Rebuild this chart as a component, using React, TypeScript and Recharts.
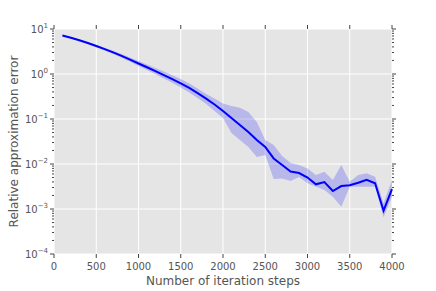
import React from 'react';
import { ComposedChart, Line, Area, XAxis, YAxis, CartesianGrid, Label } from 'recharts';

const steps = [
  100, 200, 300, 400, 500, 600, 700, 800, 900, 1000,
  1100, 1200, 1300, 1400, 1500, 1600, 1700, 1800, 1900, 2000,
  2100, 2200, 2300, 2400, 2500, 2600, 2700, 2800, 2900, 3000,
  3100, 3200, 3300, 3400, 3500, 3600, 3700, 3800, 3900, 4000,
];

const meanError = [
  7.17, 6.37, 5.61, 4.89, 4.19, 3.58, 3.02, 2.53, 2.09, 1.71,
  1.41, 1.154, 0.945, 0.77, 0.621, 0.489, 0.374, 0.283, 0.21, 0.151,
  0.105, 0.0736, 0.0514, 0.0341, 0.0239, 0.0133, 0.0095, 0.00681, 0.00631, 0.00501,
  0.00354, 0.00398, 0.00251, 0.00324, 0.00336, 0.00382, 0.00445, 0.00374, 0.000917, 0.00278,
];

const upperError = [
  7.43, 6.64, 5.87, 5.14, 4.45, 3.84, 3.28, 2.78, 2.34, 1.94,
  1.63, 1.36, 1.13, 0.94, 0.774, 0.615, 0.476, 0.359, 0.286, 0.221,
  0.194, 0.178, 0.143, 0.0858, 0.0341, 0.0264, 0.0151, 0.0105, 0.0095, 0.00794,
  0.0057, 0.00674, 0.00441, 0.0095, 0.00404, 0.0057, 0.00621, 0.00522, 0.00134, 0.00441,
];

const lowerError = [
  6.92, 6.12, 5.36, 4.64, 3.94, 3.33, 2.78, 2.29, 1.87, 1.51,
  1.23, 0.985, 0.794, 0.637, 0.501, 0.388, 0.293, 0.215, 0.151, 0.105,
  0.0489, 0.0341, 0.0239, 0.0143, 0.0158, 0.00464, 0.00476, 0.00419, 0.00514, 0.00373,
  0.00313, 0.00264, 0.00188, 0.00112, 0.00313, 0.00313, 0.00313, 0.00313, 0.000654, 0.00188,
];

const xTicks = [0, 500, 1000, 1500, 2000, 2500, 3000, 3500, 4000];
const yMajorTicks = [0.0001, 0.001, 0.01, 0.1, 1, 10];
const yExponents = ['\u22124', '\u22123', '\u22122', '\u22121', '0', '1'];
const yMinorMultipliers = [2, 3, 4, 5, 6, 7, 8, 9];

const xLabel = 'Number of iteration steps';
const yLabel = 'Relative approximation error';

const data = steps.map((s, i) => ({
  step: s,
  mean: meanError[i],
  band: [lowerError[i], upperError[i]],
}));

const yAllTicks: number[] = [];
yMajorTicks.forEach((m, i) => {
  yAllTicks.push(m);
  if (i < yMajorTicks.length - 1) {
    yMinorMultipliers.forEach((k) => yAllTicks.push(m * k));
  }
});

const TEXT = '#555555';
const TICK = '#444444';
const FONT = 'DejaVu Sans, sans-serif';

const LeftTick = (props: any) => {
  const { x, y, payload } = props;
  const idx = yMajorTicks.indexOf(payload.value);
  const major = idx >= 0;
  return (
    <g>
      <line x1={x - (major ? 4 : 2)} x2={x} y1={y} y2={y} stroke={TICK} strokeWidth={1} />
      {major && (
        <text x={x - 6} y={y + 3.6} textAnchor="end" fontSize={10} fill={TEXT} fontFamily={FONT}>
          <tspan>10</tspan>
          <tspan dy={-4.5} fontSize={7}>{yExponents[idx]}</tspan>
        </text>
      )}
    </g>
  );
};

const RightTick = (props: any) => {
  const { x, y, payload } = props;
  const major = yMajorTicks.indexOf(payload.value) >= 0;
  return <line x1={x} x2={x + (major ? 4 : 2)} y1={y} y2={y} stroke={TICK} strokeWidth={1} />;
};

const BottomTick = (props: any) => {
  const { x, y, payload } = props;
  return (
    <g>
      <line x1={x} x2={x} y1={y} y2={y + 4} stroke={TICK} strokeWidth={1} />
      <text x={x} y={y + 16} textAnchor="middle" fontSize={10} fill={TEXT} fontFamily={FONT}>
        {payload.value}
      </text>
    </g>
  );
};

const TopTick = (props: any) => {
  const { x, y } = props;
  return <line x1={x} x2={x} y1={y - 4} y2={y} stroke={TICK} strokeWidth={1} />;
};

export default function App() {
  return (
    <div style={{ position: 'absolute', left: 0, top: 0 }}>
      <ComposedChart
        width={436}
        height={291}
        data={data}
        margin={{ top: 23, right: 38, bottom: 0, left: 0 }}
      >
        <CartesianGrid
          fill="#E5E5E5"
          stroke="#FFFFFF"
          strokeWidth={1}
          horizontalValues={yMajorTicks}
          verticalValues={xTicks}
        />
        <XAxis
          dataKey="step"
          type="number"
          domain={[0, 4000]}
          ticks={xTicks}
          interval={0}
          height={37}
          axisLine={false}
          tickLine={false}
          tickSize={0}
          tickMargin={0}
          tick={<BottomTick />}
        >
          <Label
            content={(p: any) => {
              const vb = p.viewBox || { x: 54, width: 338, y: 254 };
              return (
                <text x={vb.x + vb.width / 2} y={vb.y + 31} textAnchor="middle" fontSize={12} fill={TEXT} fontFamily={FONT}>
                  {xLabel}
                </text>
              );
            }}
          />
        </XAxis>
        <XAxis
          xAxisId="top"
          orientation="top"
          dataKey="step"
          type="number"
          domain={[0, 4000]}
          ticks={xTicks}
          interval={0}
          height={6}
          axisLine={false}
          tickLine={false}
          tickSize={0}
          tickMargin={0}
          tick={<TopTick />}
        />
        <YAxis
          type="number"
          scale="log"
          domain={[0.0001, 10]}
          allowDataOverflow
          ticks={yAllTicks}
          interval={0}
          width={54}
          axisLine={false}
          tickLine={false}
          tickSize={0}
          tickMargin={0}
          tick={<LeftTick />}
        >
          <Label
            content={(p: any) => {
              const vb = p.viewBox || { y: 29, height: 225 };
              const cy = vb.y + vb.height / 2;
              return (
                <text
                  transform={`translate(17.5, ${cy}) rotate(-90)`}
                  textAnchor="middle"
                  fontSize={12}
                  fill={TEXT}
                  fontFamily={FONT}
                >
                  {yLabel}
                </text>
              );
            }}
          />
        </YAxis>
        <YAxis
          yAxisId="right"
          orientation="right"
          type="number"
          scale="log"
          domain={[0.0001, 10]}
          allowDataOverflow
          ticks={yAllTicks}
          interval={0}
          width={6}
          axisLine={false}
          tickLine={false}
          tickSize={0}
          tickMargin={0}
          tick={<RightTick />}
        />
        <Area
          dataKey="band"
          type="linear"
          stroke="none"
          fill="#0000FF"
          fillOpacity={0.2}
          isAnimationActive={false}
          activeDot={false}
        />
        <Line
          dataKey="mean"
          type="linear"
          stroke="#0000FF"
          strokeWidth={2}
          dot={false}
          activeDot={false}
          isAnimationActive={false}
        />
      </ComposedChart>
    </div>
  );
}
